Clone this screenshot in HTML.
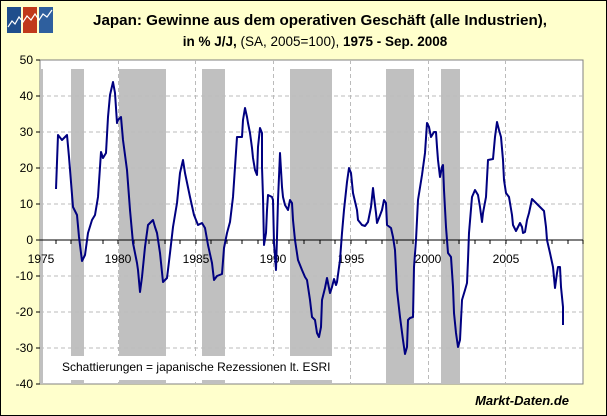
<!DOCTYPE html>
<html><head><meta charset="utf-8"><style>
body{margin:0;padding:0;}
svg{display:block;font-family:"Liberation Sans",Arial,sans-serif;}
</style></head><body>
<svg width="607" height="416" viewBox="0 0 607 416" xmlns="http://www.w3.org/2000/svg">
<rect x="0.5" y="0.5" width="606" height="415" fill="#FFFFCC" stroke="#000" stroke-width="1"/>
<!-- logo -->
<rect x="7" y="7" width="14" height="26" fill="#1F4E8C"/>
<rect x="23" y="7" width="14" height="26" fill="#C0391B"/>
<rect x="39" y="7" width="14" height="26" fill="#2E5F9E"/>
<polyline points="8,27 12,21 15,24 19,17 23,22 27,16 31,20 35,14 39,20 43,14 47,17 52,10" fill="none" stroke="#fff" stroke-width="1.2"/>
<!-- title -->
<text x="320" y="25" text-anchor="middle" font-size="15" font-weight="bold" fill="#000" textLength="454" lengthAdjust="spacingAndGlyphs">Japan: Gewinne aus dem operativen Geschäft (alle Industrien),</text>
<text x="315" y="46" text-anchor="middle" font-size="13.5" fill="#000"><tspan font-weight="bold">in % J/J, </tspan>(SA, 2005=100), <tspan font-weight="bold">1975 - Sep. 2008</tspan></text>
<!-- plot -->
<rect x="40" y="60" width="543" height="324" fill="#fff" stroke="#808080" stroke-width="1"/>
<g fill="#C0C0C0">
<rect x="40" y="69" width="3" height="315"/>
<rect x="71" y="69" width="13" height="315"/>
<rect x="119" y="69" width="47" height="315"/>
<rect x="202" y="69" width="23" height="315"/>
<rect x="290" y="69" width="42" height="315"/>
<rect x="386" y="69" width="28" height="315"/>
<rect x="441" y="69" width="19" height="315"/>
</g>
<g stroke="#BBBBBB" stroke-width="1" stroke-dasharray="4,3">
<line x1="40" y1="96" x2="583" y2="96"/><line x1="40" y1="132" x2="583" y2="132"/>
<line x1="40" y1="168" x2="583" y2="168"/><line x1="40" y1="204" x2="583" y2="204"/>
<line x1="40" y1="276" x2="583" y2="276"/><line x1="40" y1="312" x2="583" y2="312"/>
<line x1="40" y1="348" x2="583" y2="348"/>
<line x1="118.5" y1="60" x2="118.5" y2="384"/><line x1="195.5" y1="60" x2="195.5" y2="384"/>
<line x1="273.5" y1="60" x2="273.5" y2="384"/><line x1="350.5" y1="60" x2="350.5" y2="384"/>
<line x1="428.5" y1="60" x2="428.5" y2="384"/><line x1="505.5" y1="60" x2="505.5" y2="384"/>
</g>
<rect x="44" y="356" width="296" height="24" fill="#fff"/>
<text x="62" y="371" font-size="12" fill="#000">Schattierungen = japanische Rezessionen lt. ESRI</text>
<line x1="40" y1="240" x2="583" y2="240" stroke="#000" stroke-width="1"/>
<g stroke="#000" stroke-width="1">
<line x1="56" y1="240" x2="56" y2="244"/><line x1="71" y1="240" x2="71" y2="244"/><line x1="87" y1="240" x2="87" y2="244"/><line x1="103" y1="240" x2="103" y2="244"/><line x1="118" y1="240" x2="118" y2="244"/>
<line x1="134" y1="240" x2="134" y2="244"/><line x1="149" y1="240" x2="149" y2="244"/><line x1="165" y1="240" x2="165" y2="244"/><line x1="180" y1="240" x2="180" y2="244"/><line x1="196" y1="240" x2="196" y2="244"/>
<line x1="211" y1="240" x2="211" y2="244"/><line x1="227" y1="240" x2="227" y2="244"/><line x1="242" y1="240" x2="242" y2="244"/><line x1="258" y1="240" x2="258" y2="244"/><line x1="273" y1="240" x2="273" y2="244"/>
<line x1="289" y1="240" x2="289" y2="244"/><line x1="304" y1="240" x2="304" y2="244"/><line x1="320" y1="240" x2="320" y2="244"/><line x1="335" y1="240" x2="335" y2="244"/><line x1="351" y1="240" x2="351" y2="244"/>
<line x1="366" y1="240" x2="366" y2="244"/><line x1="382" y1="240" x2="382" y2="244"/><line x1="397" y1="240" x2="397" y2="244"/><line x1="413" y1="240" x2="413" y2="244"/><line x1="428" y1="240" x2="428" y2="244"/>
<line x1="444" y1="240" x2="444" y2="244"/><line x1="459" y1="240" x2="459" y2="244"/><line x1="475" y1="240" x2="475" y2="244"/><line x1="490" y1="240" x2="490" y2="244"/><line x1="506" y1="240" x2="506" y2="244"/>
<line x1="521" y1="240" x2="521" y2="244"/><line x1="537" y1="240" x2="537" y2="244"/><line x1="552" y1="240" x2="552" y2="244"/><line x1="568" y1="240" x2="568" y2="244"/><line x1="583" y1="240" x2="583" y2="244"/>
</g>
<g stroke="#000"><line x1="36" y1="60" x2="40" y2="60"/><line x1="36" y1="96" x2="40" y2="96"/><line x1="36" y1="132" x2="40" y2="132"/><line x1="36" y1="168" x2="40" y2="168"/><line x1="36" y1="204" x2="40" y2="204"/><line x1="36" y1="240" x2="40" y2="240"/><line x1="36" y1="276" x2="40" y2="276"/><line x1="36" y1="312" x2="40" y2="312"/><line x1="36" y1="348" x2="40" y2="348"/><line x1="36" y1="384" x2="40" y2="384"/></g>
<g font-size="12" fill="#000" text-anchor="end">
<text x="33" y="64">50</text><text x="33" y="100">40</text><text x="33" y="136">30</text><text x="33" y="172">20</text><text x="33" y="208">10</text><text x="33" y="244">0</text><text x="33" y="280">-10</text><text x="33" y="316">-20</text><text x="33" y="352">-30</text><text x="33" y="388">-40</text>
</g>
<g font-size="12" fill="#000" text-anchor="middle">
<text x="41" y="263">1975</text><text x="118" y="263">1980</text><text x="196" y="263">1985</text><text x="273" y="263">1990</text><text x="351" y="263">1995</text><text x="428" y="263">2000</text><text x="506" y="263">2005</text>
</g>
<polyline fill="none" stroke="#000080" stroke-width="2" stroke-linejoin="round" points="56,189 58,135 62,140 67,135 69,157 73,207 77,215 79,237 82,261 85,255 88,233 92,220 95,215 98,197 101,152 103,158 106,153 108,117 110,95 113,82 115,93 117,123 118,120 121,117 123,140 127,170 130,210 133,243 137,263 138,270 140,292 142,277 145,247 148,225 153,220 155,227 157,233 160,253 163,282 167,278 170,253 173,227 177,203 180,173 183,160 185,173 190,197 194,215 198,225 202,223 205,228 208,245 212,263 214,280 217,276 222,274 224,248 227,233 230,222 233,197 235,167 237,137 242,137 243,120 245,108 247,117 248,123 250,133 252,148 253,158 255,170 257,175 258,147 260,128 262,133 262,167 263,197 264,245 266,233 267,210 268,195 272,197 273,200 274,243 276,270 277,237 278,200 280,153 282,187 283,197 285,205 288,210 290,200 292,203 293,220 295,240 298,260 302,270 305,277 307,280 310,300 312,317 315,320 317,333 319,337 321,327 322,300 325,288 327,278 328,283 330,293 332,287 334,279 336,285 337,282 340,260 342,233 344,210 347,182 349,168 351,173 353,193 357,210 358,220 362,225 365,226 368,222 371,207 373,188 374,197 376,213 377,223 379,218 382,210 384,200 386,203 387,225 391,228 393,237 395,250 397,290 400,317 403,340 405,354 407,347 408,320 410,318 413,317 414,267 416,240 418,200 422,175 425,153 427,123 429,127 431,137 434,132 436,132 437,147 438,160 440,177 442,167 443,165 444,190 446,227 448,253 451,257 453,287 454,313 456,333 458,347 460,340 462,300 465,290 467,283 468,260 469,233 472,197 475,190 478,195 480,207 482,222 483,213 486,197 488,160 493,159 495,137 497,122 499,130 501,137 503,160 504,180 506,193 509,197 512,215 513,225 516,231 518,227 520,223 522,227 523,233 525,232 527,220 529,213 532,199 535,202 540,207 544,211 546,227 547,240 550,253 553,267 555,288 557,273 558,267 560,267 561,287 563,307 563,325"/>
<text x="569" y="405" text-anchor="end" font-size="13" font-weight="bold" font-style="italic" fill="#000">Markt-Daten.de</text>
</svg>
</body></html>
